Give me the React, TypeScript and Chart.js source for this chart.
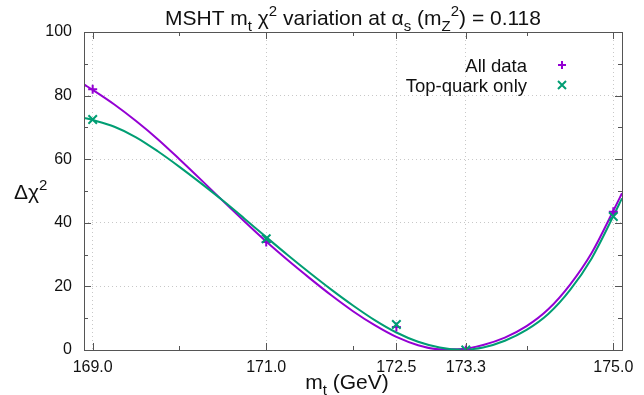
import React, { useEffect, useRef } from 'react';
import { Chart, registerables } from 'chart.js';

Chart.register(...registerables);

const FONT = '"Liberation Sans", Arial, Helvetica, sans-serif';
const PURPLE = '#9400d3';
const GREEN = '#009e73';
const GRID = '#c8c8c8';
const FRAME = '#555555';

// Fitted curves
const curveMt = [168.9, 169.0, 169.25, 169.5, 169.75, 170.0, 170.25, 170.5, 170.75, 171.0, 171.25, 171.5, 171.75, 172.0, 172.25, 172.5, 172.75, 173.0, 173.25, 173.5, 173.75, 174.0, 174.25, 174.5, 174.75, 175.0, 175.1];
const allDataCurve = [83.5, 81.8, 77.2, 72.0, 66.3, 60.0, 53.5, 46.9, 40.4, 34.1, 28.2, 22.6, 17.2, 12.2, 7.8, 4.1, 1.5, 0.2, 0.3, 1.6, 3.9, 7.5, 12.8, 20.5, 30.5, 43.8, 49.3];
const topQuarkCurve = [73.0, 72.3, 70.2, 66.9, 62.5, 57.6, 52.4, 47.0, 41.3, 35.5, 29.8, 24.3, 19.0, 14.0, 9.4, 5.5, 2.6, 0.8, 0.1, 0.8, 2.9, 6.3, 11.3, 18.8, 28.8, 42.1, 47.7];

// Measured points
const pointMt = [169.0, 171.0, 172.5, 173.3, 175.0];
const allDataPoints = [82.0, 34.0, 7.2, 0.0, 43.5];
const topQuarkPoints = [72.5, 35.0, 8.0, 0.0, 42.0];

// Ticks
const xMajorTicks = [169.0, 171.0, 172.5, 173.3, 175.0];
const xMinorTicks = [170.0, 172.0, 174.0];
const yMajorTicks = [0, 20, 40, 60, 80, 100];
const yMinorTicks = [10, 30, 50, 70, 90];

const legendLabels = ['All data', 'Top-quark only'];

type Seg = { t: string; k?: 'sub' | 'sup' };

function drawRich(ctx: CanvasRenderingContext2D, segs: Seg[], x: number, y: number, size: number, align: 'left' | 'center' | 'right') {
  const small = Math.round(size * 0.72);
  let w = 0;
  for (const s of segs) {
    ctx.font = `${s.k ? small : size}px ${FONT}`;
    w += ctx.measureText(s.t).width;
  }
  let cx = align === 'center' ? x - w / 2 : align === 'right' ? x - w : x;
  ctx.textAlign = 'left';
  ctx.textBaseline = 'alphabetic';
  for (const s of segs) {
    ctx.font = `${s.k ? small : size}px ${FONT}`;
    const dy = s.k === 'sub' ? size * 0.28 : s.k === 'sup' ? -size * 0.42 : 0;
    ctx.fillText(s.t, cx, y + dy);
    cx += ctx.measureText(s.t).width;
  }
}

const titleSegs: Seg[] = [
  { t: 'MSHT m' }, { t: 't', k: 'sub' }, { t: ' \u03c7' }, { t: '2', k: 'sup' },
  { t: ' variation at \u03b1' }, { t: 's', k: 'sub' }, { t: ' (m' }, { t: 'Z', k: 'sub' },
  { t: '2', k: 'sup' }, { t: ') = 0.118' },
];
const yTitleSegs: Seg[] = [{ t: '\u0394\u03c7' }, { t: '2', k: 'sup' }];
const xTitleSegs: Seg[] = [{ t: 'm' }, { t: 't', k: 'sub' }, { t: ' (GeV)' }];

const decorPlugin = {
  id: 'decor',
  afterDatasetsDraw(chart: any) {
    const ctx: CanvasRenderingContext2D = chart.ctx;
    const { left, right, top, bottom } = chart.chartArea;
    const xs = chart.scales.x;
    const ys = chart.scales.y;
    ctx.save();
    ctx.strokeStyle = FRAME;
    ctx.lineWidth = 1;
    ctx.beginPath();
    for (const v of [...xMajorTicks, ...xMinorTicks]) {
      const len = xMajorTicks.includes(v) ? 7 : 4;
      const px = Math.round(xs.getPixelForValue(v)) + 0.5;
      ctx.moveTo(px, bottom); ctx.lineTo(px, bottom - len);
      ctx.moveTo(px, top); ctx.lineTo(px, top + len);
    }
    for (const v of [...yMajorTicks, ...yMinorTicks]) {
      const len = yMajorTicks.includes(v) ? 7 : 4;
      const py = Math.round(ys.getPixelForValue(v)) + 0.5;
      ctx.moveTo(left, py); ctx.lineTo(left + len, py);
      ctx.moveTo(right, py); ctx.lineTo(right - len, py);
    }
    ctx.stroke();
    ctx.strokeRect(Math.round(left) + 0.5, Math.round(top) + 0.5, Math.round(right - left), Math.round(bottom - top));
    ctx.restore();
  },
  afterDraw(chart: any) {
    const ctx: CanvasRenderingContext2D = chart.ctx;
    const { left, right } = chart.chartArea;
    ctx.save();
    ctx.fillStyle = '#111111';
    drawRich(ctx, titleSegs, (left + right) / 2, 25, 21, 'center');
    drawRich(ctx, yTitleSegs, 14, 199, 21, 'left');
    drawRich(ctx, xTitleSegs, (left + right) / 2 - 6, 389, 21, 'center');
    // legend
    const colors = [PURPLE, GREEN];
    const styles = ['cross', 'crossRot'];
    legendLabels.forEach((lab, i) => {
      const yb = 71.5 + i * 20;
      ctx.fillStyle = '#111111';
      ctx.font = `18.5px ${FONT}`;
      ctx.textAlign = 'right';
      ctx.textBaseline = 'alphabetic';
      ctx.fillText(lab, 527, yb);
      ctx.strokeStyle = colors[i];
      ctx.lineWidth = 2;
      const cx = 562, cy = yb - 6.5, r = 4;
      ctx.beginPath();
      if (styles[i] === 'cross') {
        ctx.moveTo(cx - r, cy); ctx.lineTo(cx + r, cy);
        ctx.moveTo(cx, cy - r); ctx.lineTo(cx, cy + r);
      } else {
        ctx.moveTo(cx - r, cy - r); ctx.lineTo(cx + r, cy + r);
        ctx.moveTo(cx - r, cy + r); ctx.lineTo(cx + r, cy - r);
      }
      ctx.stroke();
    });
    ctx.restore();
  },
};

export default function App() {
  const ref = useRef<HTMLCanvasElement | null>(null);
  useEffect(() => {
    if (!ref.current) return;
    const chart = new Chart(ref.current, {
      type: 'line',
      data: {
        datasets: [
          {
            label: 'All data points',
            data: pointMt.map((x, i) => ({ x, y: allDataPoints[i] })),
            showLine: false,
            pointStyle: 'cross',
            pointRadius: 4.5,
            pointBorderWidth: 2,
            borderColor: PURPLE,
            backgroundColor: PURPLE,
            order: 1,
          },
          {
            label: 'Top-quark only points',
            data: pointMt.map((x, i) => ({ x, y: topQuarkPoints[i] })),
            showLine: false,
            pointStyle: 'crossRot',
            pointRadius: 6,
            pointBorderWidth: 2,
            borderColor: GREEN,
            backgroundColor: GREEN,
            order: 0,
          },
          {
            label: 'All data',
            data: curveMt.map((x, i) => ({ x, y: allDataCurve[i] })),
            borderColor: PURPLE,
            borderWidth: 2,
            pointRadius: 0,
            tension: 0.4,
            cubicInterpolationMode: 'monotone',
            order: 3,
          },
          {
            label: 'Top-quark only',
            data: curveMt.map((x, i) => ({ x, y: topQuarkCurve[i] })),
            borderColor: GREEN,
            borderWidth: 2,
            pointRadius: 0,
            tension: 0.4,
            cubicInterpolationMode: 'monotone',
            order: 2,
          },
        ],
      },
      options: {
        responsive: false,
        animation: false,
        devicePixelRatio: 1,
        layout: { padding: { top: 32, right: 22, left: 0, bottom: 0 } },
        plugins: { legend: { display: false }, title: { display: false }, tooltip: { enabled: false } },
        scales: {
          x: {
            type: 'linear',
            min: 168.9,
            max: 175.1,
            afterBuildTicks: (s: any) => {
              s.ticks = [...xMajorTicks, ...xMinorTicks].sort((a, b) => a - b).map((v) => ({ value: v }));
            },
            afterFit: (s: any) => { s.height = 45; },
            ticks: {
              autoSkip: false,
              maxRotation: 0,
              padding: 8,
              color: '#111111',
              font: { family: FONT, size: 16 },
              callback: (v: any) => (xMajorTicks.includes(Number(v)) ? Number(v).toFixed(1) : ''),
            },
            grid: {
              drawTicks: false,
              color: (c: any) => (c.tick && xMajorTicks.includes(c.tick.value) ? GRID : 'rgba(0,0,0,0)'),
              lineWidth: 1,
            },
            border: { display: false, dash: [1, 3] },
          },
          y: {
            type: 'linear',
            min: 0,
            max: 100,
            afterBuildTicks: (s: any) => {
              s.ticks = yMajorTicks.map((v) => ({ value: v }));
            },
            afterFit: (s: any) => { s.width = 84; },
            ticks: {
              padding: 12,
              color: '#111111',
              font: { family: FONT, size: 16 },
              callback: (v: any) => String(v),
            },
            grid: {
              drawTicks: false,
              color: (c: any) => (c.tick && c.tick.value > 0 && c.tick.value < 100 ? GRID : 'rgba(0,0,0,0)'),
              lineWidth: 1,
            },
            border: { display: false, dash: [1, 3] },
          },
        },
      },
      plugins: [decorPlugin],
    } as any);
    return () => chart.destroy();
  }, []);
  return (
    <div style={{ width: 644, height: 395, position: 'relative', background: '#ffffff' }}>
      <style>{'body{margin:0;background:#ffffff}'}</style>
      <canvas ref={ref} width={644} height={395} />
    </div>
  );
}
